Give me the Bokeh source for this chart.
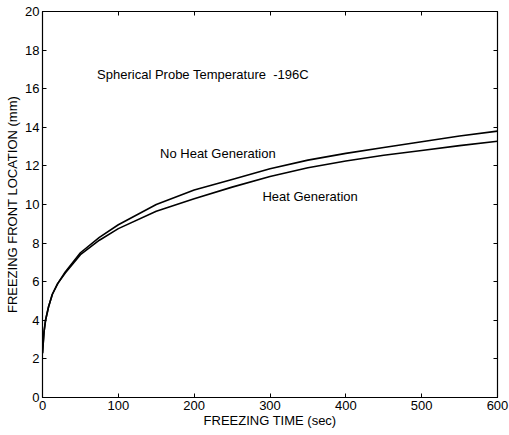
from bokeh.plotting import figure
from bokeh.models import LinearAxis, FixedTicker, Range1d
from bokeh.core.properties import value
from bokeh.embed import file_html
from bokeh.resources import INLINE

# data
time_s = [0, 2, 4, 8, 13, 20, 30, 50, 75, 100, 150, 200, 250, 300, 350, 400, 450, 500, 550, 600]
no_heat_gen = [2.3, 3.4, 4.0, 4.7, 5.35, 5.9, 6.5, 7.5, 8.3, 8.95, 10.0, 10.75, 11.3, 11.85, 12.3, 12.65, 12.95, 13.25, 13.55, 13.8]
heat_gen = [2.3, 3.4, 4.0, 4.7, 5.35, 5.9, 6.45, 7.4, 8.15, 8.75, 9.65, 10.3, 10.9, 11.45, 11.9, 12.25, 12.55, 12.8, 13.05, 13.28]
x_ticks = [0, 100, 200, 300, 400, 500, 600]
y_ticks = [0, 2, 4, 6, 8, 10, 12, 14, 16, 18, 20]

FONT = "Liberation Sans"

p = figure(width=509, height=435, output_backend="svg", toolbar_location=None,
           x_range=Range1d(0, 600), y_range=Range1d(0, 20),
           x_axis_location=None, y_axis_location=None,
           min_border_left=42, min_border_right=12, min_border_top=11, min_border_bottom=38)
p.background_fill_color = "white"
p.border_fill_color = "white"
p.grid.visible = False
p.outline_line_color = "black"
p.outline_line_width = 1.2

def style(ax, labels=True):
    ax.major_tick_in = 4
    ax.major_tick_out = 0
    ax.minor_tick_line_color = None
    ax.axis_line_color = "black"
    ax.major_tick_line_color = "black"
    ax.major_label_text_font = FONT
    ax.major_label_text_font_size = "13px"
    ax.major_label_text_color = "black"
    ax.axis_label_text_font = FONT
    ax.axis_label_text_font_size = "13px"
    ax.axis_label_text_font_style = "normal"
    ax.axis_label_text_color = "black"
    ax.major_label_standoff = 3
    if not labels:
        ax.major_label_text_font_size = "1px"
        ax.major_label_standoff = 0
        ax.major_label_overrides = {t: "" for t in ax.ticker.ticks}

xb = LinearAxis(ticker=FixedTicker(ticks=x_ticks), axis_label="FREEZING TIME (sec)")
style(xb)
xb.axis_label_standoff = 0
p.add_layout(xb, "below")
yl = LinearAxis(ticker=FixedTicker(ticks=y_ticks), axis_label="FREEZING FRONT LOCATION (mm)")
style(yl)
yl.axis_label_standoff = 2
p.add_layout(yl, "left")
xt = LinearAxis(ticker=FixedTicker(ticks=x_ticks))
style(xt, labels=False)
p.add_layout(xt, "above")
yr = LinearAxis(ticker=FixedTicker(ticks=y_ticks))
style(yr, labels=False)
p.add_layout(yr, "right")

p.line(time_s, no_heat_gen, line_color="black", line_width=1.6)
p.line(time_s, heat_gen, line_color="black", line_width=1.6)

p.text(x=[72], y=[16.75], text=["Spherical Probe Temperature \u00a0-196C"],
       text_font=value(FONT), text_font_size="13px", text_baseline="middle", text_color="black")
p.text(x=[155], y=[12.65], text=["No Heat Generation"],
       text_font=value(FONT), text_font_size="13px", text_baseline="middle", text_color="black")
p.text(x=[290], y=[10.4], text=["Heat Generation"],
       text_font=value(FONT), text_font_size="13px", text_baseline="middle", text_color="black")

open("out.html", "w").write(file_html(p, INLINE))
